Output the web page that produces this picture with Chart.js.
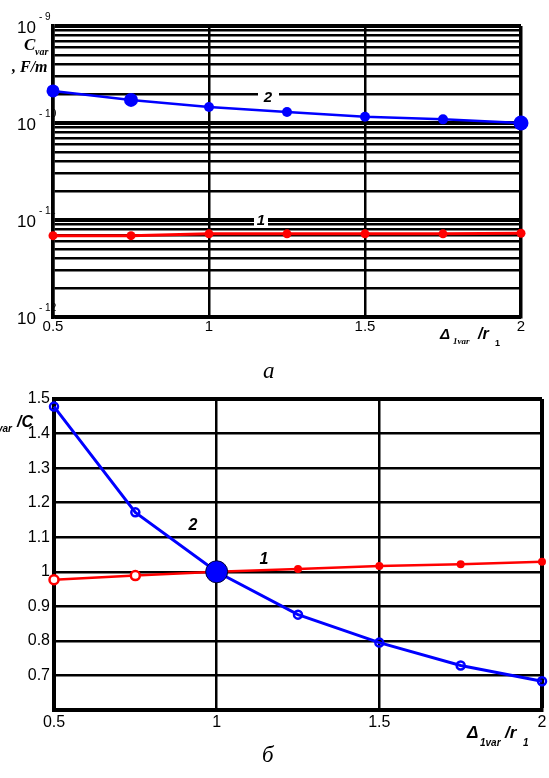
<!DOCTYPE html>
<html><head><meta charset="utf-8">
<script src="https://cdn.jsdelivr.net/npm/chart.js@4/dist/chart.umd.min.js"></script>
<style>
html,body{margin:0;padding:0;background:#fff;overflow:hidden;width:549px;height:778px;}
canvas{position:absolute;left:0;}
#top{top:0;}
#bot{top:380px;}
</style></head><body>
<canvas id="top" width="549" height="380"></canvas>
<canvas id="bot" width="549" height="398"></canvas>
<script>
// ---- data ----
const xValues = [0.5, 0.75, 1, 1.25, 1.5, 1.75, 2];
const capCurve1 = [6.9e-12, 6.9e-12, 7.2e-12, 7.2e-12, 7.2e-12, 7.2e-12, 7.3e-12];
const capCurve2 = [2.14e-10, 1.73e-10, 1.46e-10, 1.30e-10, 1.16e-10, 1.09e-10, 1.0e-10];
const relCurve1 = [0.977, 0.989, 1.0, 1.008, 1.017, 1.022, 1.029];
const relCurve2 = [1.478, 1.172, 1.0, 0.876, 0.795, 0.729, 0.683];
const xTickValues = [0.5, 1, 1.5, 2];
const xTickLabels = ['0.5', '1', '1.5', '2'];
const topDecades = [-9, -10, -11, -12];
const botYTicks = [0.6, 0.7, 0.8, 0.9, 1.0, 1.1, 1.2, 1.3, 1.4, 1.5];
const botYLabels = ['', '0.7', '0.8', '0.9', '1', '1.1', '1.2', '1.3', '1.4', '1.5'];
const curveNames = ['1', '2'];

const BLUE = '#0000ff', RED = '#ff0000';
const SANS = '"Liberation Sans", Arial, sans-serif';
const SERIF = '"Liberation Serif", "Times New Roman", serif';

function pts(ys){ return xValues.map((x,i)=>({x:x, y:ys[i]})); }
function txt(ctx, s, x, y, font, align, base){
  ctx.save(); ctx.font = font; ctx.fillStyle = '#000';
  ctx.textAlign = align || 'left'; ctx.textBaseline = base || 'alphabetic';
  ctx.fillText(s, x, y); ctx.restore();
}

// ---------- TOP CHART (log) ----------
const topPlugin = {
  id: 'topText',
  afterDraw(chart){
    const ctx = chart.ctx, xs = chart.scales.x, ys = chart.scales.y;
    topDecades.forEach(e=>{
      const y = ys.getPixelForValue(Math.pow(10, e));
      txt(ctx, '10', 36, y + 7, '17px ' + SANS, 'right');
      txt(ctx, '- ' + String(-e), 39, y - 6, '10px ' + SANS, 'left');
    });
    xTickValues.forEach((v,i)=>{
      txt(ctx, xTickLabels[i], xs.getPixelForValue(v), 327, '15px ' + SANS, 'center', 'middle');
    });
    txt(ctx, 'C', 24, 50, 'bold italic 17px ' + SERIF);
    txt(ctx, 'var', 35, 55, 'bold italic 10px ' + SERIF);
    txt(ctx, ', F/m', 12, 72, 'bold italic 16px ' + SERIF);
    txt(ctx, 'Δ', 440, 339, 'bold italic 15px ' + SANS);
    txt(ctx, '1var', 453, 344, 'bold italic 9px ' + SERIF);
    txt(ctx, '/r', 478, 339, 'bold italic 16px ' + SANS);
    txt(ctx, '1', 495, 346, 'bold 9px ' + SANS);
    ctx.save(); ctx.fillStyle = '#fff';
    ctx.fillRect(258, 87, 21, 17);
    ctx.fillRect(254, 213, 14, 13);
    ctx.restore();
    txt(ctx, curveNames[1], 268, 102, 'bold italic 15px ' + SANS, 'center');
    txt(ctx, curveNames[0], 261, 225, 'bold italic 15px ' + SANS, 'center');
    txt(ctx, 'а', 263, 378, 'italic 23px ' + SERIF);
  }
};

new Chart(document.getElementById('top'), {
  type: 'line',
  data: { datasets: [
    { label: curveNames[1], data: pts(capCurve2), borderColor: BLUE, backgroundColor: BLUE,
      borderWidth: 2.5, pointRadius: [6.5,7,5,5,5,5,7.5], pointBackgroundColor: BLUE,
      pointBorderColor: BLUE, pointBorderWidth: 0, clip: false, order: 0 },
    { label: curveNames[0], data: pts(capCurve1), borderColor: RED, backgroundColor: RED,
      borderWidth: 3, pointRadius: 4.5, pointBackgroundColor: RED, pointBorderColor: RED,
      pointBorderWidth: 0, clip: false, order: 1 }
  ]},
  options: {
    responsive: false, animation: false,
    layout: { padding: { top: 26, right: 28, left: 0, bottom: 35 } },
    plugins: { legend: { display: false }, tooltip: { enabled: false } },
    scales: {
      x: { type: 'linear', min: 0.5, max: 2,
        afterBuildTicks(s){ s.ticks = xTickValues.map(v=>({value:v})); },
        afterFit(s){ s.height = 28; },
        ticks: { display: false },
        grid: { color: '#000', lineWidth: c => (c.tick && c.tick.value === 2) ? 3.5 : 2.5, drawTicks: false },
        border: { display: true, color: '#000', width: 3.5 } },
      y: { type: 'logarithmic', min: 1e-12, max: 1e-9,
        afterBuildTicks(s){
          const t = [];
          for (let e = -12; e < -9; e++) for (let m = 1; m <= 9; m++) t.push({value: m * Math.pow(10, e)});
          t.push({value: 1e-9});
          s.ticks = t;
        },
        afterFit(s){ s.width = 53; },
        ticks: { display: false },
        grid: { color: '#000', drawTicks: false,
          lineWidth: c => { if (!c.tick) return 2.5; const l = Math.log10(c.tick.value); return Math.abs(l - Math.round(l)) < 1e-6 ? 4 : 2.5; } },
        border: { display: true, color: '#000', width: 3.5 } }
    }
  },
  plugins: [topPlugin]
});

// ---------- BOTTOM CHART (linear) ----------
const botPlugin = {
  id: 'botText',
  afterDraw(chart){
    const ctx = chart.ctx, xs = chart.scales.x, ys = chart.scales.y;
    botYTicks.forEach((v,i)=>{
      if (botYLabels[i]) txt(ctx, botYLabels[i], 50, ys.getPixelForValue(v), '16px ' + SANS, 'right', 'middle');
    });
    xTickValues.forEach((v,i)=>{
      txt(ctx, xTickLabels[i], xs.getPixelForValue(v), 343, '16px ' + SANS, 'center', 'middle');
    });
    txt(ctx, '/C', 17, 47, 'bold italic 16px ' + SANS);
    txt(ctx, 'var', 12, 52, 'bold italic 10px ' + SANS, 'right');
    txt(ctx, 'C', -6, 47, 'bold italic 16px ' + SANS, 'right');
    txt(ctx, 'Δ', 467, 358, 'bold italic 17px ' + SANS);
    txt(ctx, '1var', 480, 366, 'bold italic 10px ' + SANS);
    txt(ctx, '/r', 505, 358, 'bold italic 17px ' + SANS);
    txt(ctx, '1', 523, 366, 'bold italic 10px ' + SANS);
    txt(ctx, curveNames[1], 193, 150, 'bold italic 16px ' + SANS, 'center');
    txt(ctx, curveNames[0], 264, 184, 'bold italic 16px ' + SANS, 'center');
    txt(ctx, 'б', 262, 382, 'italic 23px ' + SERIF);
  }
};

new Chart(document.getElementById('bot'), {
  type: 'line',
  data: { datasets: [
    { label: curveNames[1], data: pts(relCurve2), borderColor: BLUE, backgroundColor: BLUE,
      borderWidth: 3, pointRadius: [4,4,11,4,4,4,4],
      pointBackgroundColor: ['rgba(0,0,0,0)','rgba(0,0,0,0)',BLUE,'rgba(0,0,0,0)','rgba(0,0,0,0)','rgba(0,0,0,0)','rgba(0,0,0,0)'],
      pointBorderColor: [BLUE,BLUE,'#000033',BLUE,BLUE,BLUE,BLUE],
      pointBorderWidth: [2.5,2.5,1,2.5,2.5,2.5,2.5], clip: false, order: 0 },
    { label: curveNames[0], data: pts(relCurve1), borderColor: RED, backgroundColor: RED,
      borderWidth: 2.5, pointRadius: [4.5,4.5,0,4,4,4,4],
      pointBackgroundColor: ['#fff','#fff',RED,RED,RED,RED,RED],
      pointBorderColor: RED, pointBorderWidth: [2.5,2.5,0,0,0,0,0], clip: false, order: 1 }
  ]},
  options: {
    responsive: false, animation: false,
    layout: { padding: { top: 19, right: 2, left: 0, bottom: 0 } },
    plugins: { legend: { display: false }, tooltip: { enabled: false } },
    scales: {
      x: { type: 'linear', min: 0.5, max: 2,
        afterBuildTicks(s){ s.ticks = xTickValues.map(v=>({value:v})); },
        afterFit(s){ s.height = 68; },
        ticks: { display: false },
        grid: { color: '#000', lineWidth: c => (c.tick && c.tick.value === 2) ? 4 : 2.5, drawTicks: false },
        border: { display: true, color: '#000', width: 4 } },
      y: { type: 'linear', min: 0.6, max: 1.5,
        afterBuildTicks(s){ s.ticks = botYTicks.map(v=>({value:v})); },
        afterFit(s){ s.width = 54; },
        ticks: { display: false },
        grid: { color: '#000', lineWidth: c => (c.tick && c.tick.value === 1.5) ? 4 : 2.5, drawTicks: false },
        border: { display: true, color: '#000', width: 4 } }
    }
  },
  plugins: [botPlugin]
});
</script>
</body></html>
